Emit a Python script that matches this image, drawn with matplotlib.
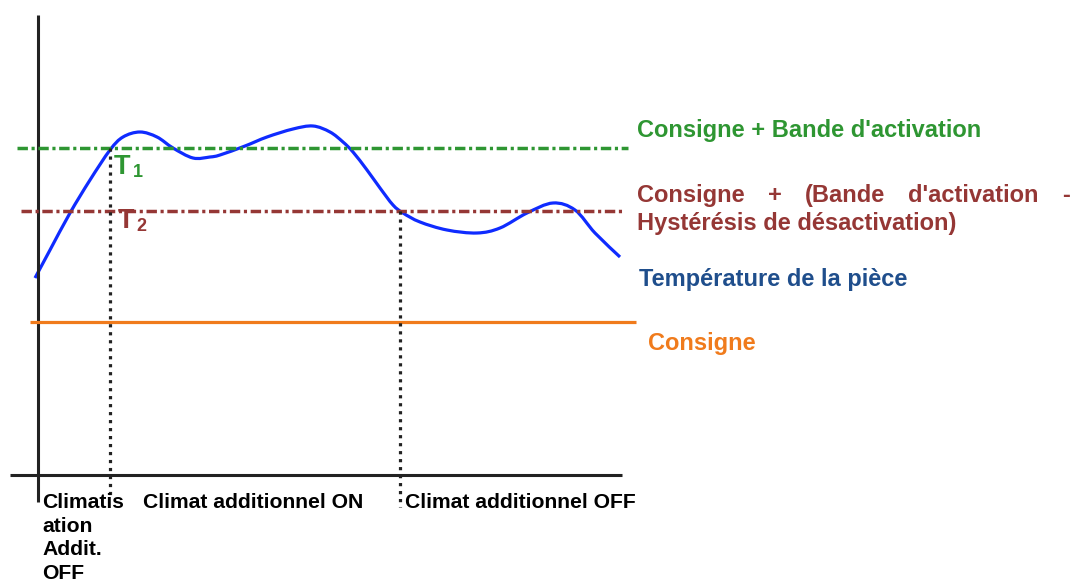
import numpy as np
import matplotlib.pyplot as plt
from matplotlib.path import Path
from matplotlib.patches import PathPatch
from matplotlib.transforms import Affine2D

temps = [-0.3, 1.2, 3.2, 5.2, 7.2, 8.5, 10.2, 11.9, 13.5, 15.5, 17.2, 18.2, 20.7,
         22.9, 25.5, 27.5, 29.2, 30.5, 31.5, 32.9, 34.2, 35.5, 36.5, 38.2, 40.9,
         43.9, 46.2, 48.9, 51.5, 53.7, 55.7, 58.2]
temperature = [19.7, 22.5, 26.2, 29.5, 32.5, 33.8, 34.3, 33.8, 32.7, 31.7, 31.8,
               32.0, 32.9, 33.8, 34.6, 34.9, 34.3, 33.3, 32.3, 30.5, 28.7, 27.0,
               26.2, 25.3, 24.5, 24.2, 24.7, 26.2, 27.2, 26.5, 24.2, 21.8]

consigne = 15.3
seuil_on = 32.7     # consigne + bande d'activation
seuil_off = 26.4    # consigne + (bande - hystérésis)
t1 = 7.2
t2 = 36.2

green = '#2e9632'
darkred = '#953735'
blue = '#0f2bff'
navy = '#1f4e8c'
orange = '#f07b1c'
black = '#222222'

plt.rcParams['font.family'] = ['Liberation Sans', 'DejaVu Sans']
plt.rcParams['font.weight'] = 'bold'

fig = plt.figure(figsize=(10.72, 5.84), dpi=100)
ax = fig.add_axes([0, 0, 1, 1])
ax.set_xlim(-3.8, 103.4)
ax.set_ylim(-10.9, 47.5)
ax.axis('off')

# axes du schéma
ax.plot([0, 0], [-2.7, 46.0], color=black, lw=2.2, solid_capstyle='butt')
ax.plot([-2.8, 58.4], [0, 0], color=black, lw=2.2, solid_capstyle='butt')

dashdot = (0, (3.0, 1.05, 0.9, 1.05))
ax.hlines(seuil_on, -2.1, 59.0, colors=green, lw=2.5, linestyles=[dashdot])
ax.hlines(seuil_off, -1.7, 58.7, colors=darkred, lw=2.5, linestyles=[dashdot])
ax.hlines(consigne, -0.8, 59.8, colors=orange, lw=2.3)

dots = (0, (1, 1.5))
ax.plot([t1, t1], [seuil_on, -2.2], color=black, lw=2.3, linestyle=dots)
ax.plot([t2, t2], [seuil_off, -3.2], color=black, lw=2.3, linestyle=dots)


# courbe lissée (Catmull-Rom -> Bézier) passant par les points lus
def smooth_path(x, y):
    pts = np.column_stack([x, y])
    verts = [pts[0]]
    codes = [Path.MOVETO]
    for i in range(len(pts) - 1):
        p0 = pts[i - 1] if i > 0 else pts[i]
        p1, p2 = pts[i], pts[i + 1]
        p3 = pts[i + 2] if i + 2 < len(pts) else pts[i + 1]
        verts += [p1 + (p2 - p0) / 6, p2 - (p3 - p1) / 6, p2]
        codes += [Path.CURVE4] * 3
    return Path(verts, codes)


ax.add_patch(PathPatch(smooth_path(temps, temperature), fill=False,
                       edgecolor=blue, lw=2.3, joinstyle='round'))

# textes placés en pixels (origine en haut à gauche)
pix = Affine2D().scale(1, -1).translate(0, 584)


def label(x, y, s, color, size=17):
    return ax.text(x, y, s, color=color, fontsize=size, fontweight='bold',
                   transform=pix, va='baseline', ha='left')


label(637, 137, "Consigne + Bande d'activation", green)
label(639, 286, "Température de la pièce", navy)
label(648, 350, "Consigne", orange)
label(637, 230, "Hystérésis de désactivation)", darkred)

# ligne justifiée
mots = ["Consigne", "+", "(Bande", "d'activation", "-"]
txts = [label(0, 202, m, darkred) for m in mots]
fig.canvas.draw()
r = fig.canvas.get_renderer()
widths = [tx.get_window_extent(r).width for tx in txts]
gap = (1070 - 637 - sum(widths)) / (len(mots) - 1)
x = 637
for tx, w in zip(txts, widths):
    tx.set_x(x)
    x += w + gap

label(114, 174, "T", green, size=19.5)
label(133, 177, "1", green, size=13)
label(118, 228, "T", darkred, size=19.5)
label(136, 231, "2", darkred, size=13)

label(143, 508, "Climat additionnel ON", 'black', size=15.2)
label(405, 508, "Climat additionnel OFF", 'black', size=15.2)
for i, ligne in enumerate(["Climatis", "ation", "Addit.", "OFF"]):
    label(42, 508 + 23.7 * i, ligne, 'black', size=15.2)

fig.savefig('out.png', dpi=100)
